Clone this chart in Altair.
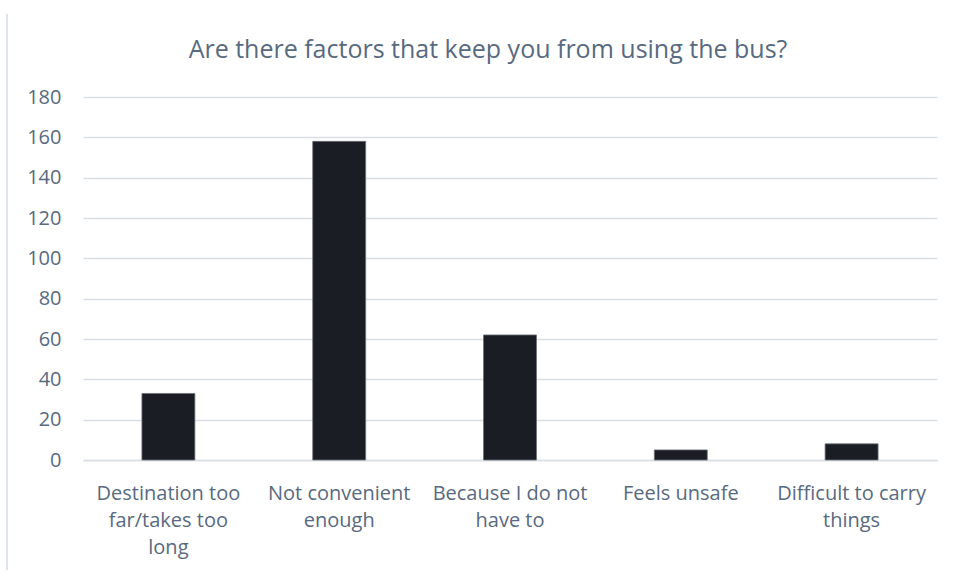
import altair as alt
import pandas as pd

categories = [
    "Destination too|far/takes too|long",
    "Not convenient|enough",
    "Because I do not|have to",
    "Feels unsafe",
    "Difficult to carry|things",
]
values = [33, 158, 62, 5, 8]
y_ticks = [0, 20, 40, 60, 80, 100, 120, 140, 160, 180]

df = pd.DataFrame({"category": categories, "count": values})

TEXT = "#586a80"
GRID = "#d9dde4"
FONT = "Open Sans"

bars = (
    alt.Chart(df)
    .mark_bar(color="#1a1d23", stroke="#6b7079", strokeWidth=0.8)
    .encode(
        x=alt.X(
            "category:N",
            sort=categories,
            title=None,
            scale=alt.Scale(paddingInner=0.69, paddingOuter=0.345),
            axis=alt.Axis(
                labelAngle=0,
                labelExpr="split(datum.value, '|')",
                labelFontSize=20,
                labelColor=TEXT,
                labelFont=FONT,
                labelPadding=33,
                labelLineHeight=27,
                ticks=False,
                domainColor=GRID,
                domainWidth=1.5,
                labelBaseline="middle",
            ),
        ),
        y=alt.Y(
            "count:Q",
            title=None,
            scale=alt.Scale(domain=[0, 180], nice=False),
            axis=alt.Axis(
                values=y_ticks,
                labelFontSize=20,
                labelColor=TEXT,
                labelFont=FONT,
                labelPadding=22,
                ticks=False,
                domain=False,
                gridColor=GRID,
                gridWidth=1.5,
            ),
        ),
    )
)

# light frame edge of the original chart box (left side)
frame = alt.Chart(df).mark_rule(color="#dfe4eb", strokeWidth=2).encode(
    x=alt.value(-76), y=alt.value(-83), y2=alt.value(473)
)

chart = (
    alt.layer(bars, frame)
    .properties(
        width=854,
        height=363,
        autosize=alt.AutoSizeParams(type="none"),
        padding={"left": 83, "top": 97, "right": 20, "bottom": 118},
        title=alt.TitleParams(
            "Are there factors that keep you from using the bus?",
            fontSize=25,
            font=FONT,
            fontWeight="normal",
            color=TEXT,
            anchor="middle",
            dx=-22,
            offset=-50,
        ),
    )
    .configure(background="white")
    .configure_view(stroke=None)
)

chart.save("out.html", embed_options={"renderer": "svg", "actions": False})
